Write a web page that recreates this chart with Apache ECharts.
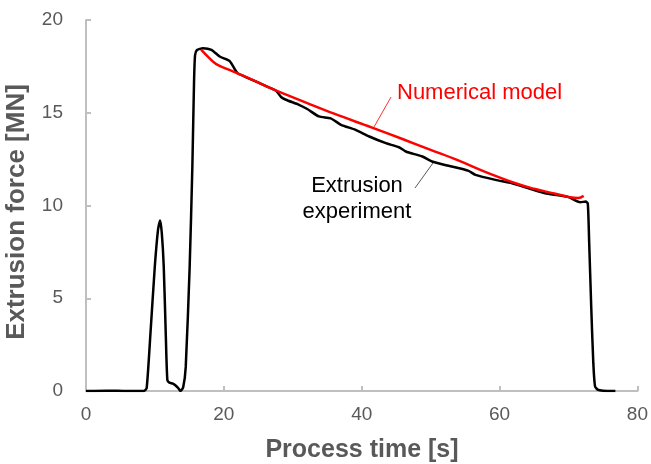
<!DOCTYPE html>
<html>
<head>
<meta charset="utf-8">
<script src="https://cdn.jsdelivr.net/npm/echarts@6/dist/echarts.min.js"></script>
<style>
  html, body { margin: 0; padding: 0; background: #ffffff; }
  #chart { width: 651px; height: 464px; }
</style>
</head>
<body>
<div id="chart"></div>
<script>
// Extrusion experiment (process time [s], force [MN])
var expTime = [0, 3, 6, 8.4, 8.8, 9.35, 9.98, 10.45, 10.75, 11.0, 11.28, 11.57, 11.8, 12.1, 12.6, 13.0, 13.4, 13.7, 14.1, 14.47, 15.04, 15.43, 15.67, 15.82, 16.1, 16.97, 18.2, 19.4, 20.8, 21.5, 22.0, 24.7, 26.6, 27.6, 28.3, 29.0, 30.9, 32.1, 33.8, 35.5, 37.0, 39.1, 41.1, 43.5, 45.4, 46.4, 48.8, 50.2, 52.6, 55.5, 56.5, 59.4, 61.8, 64.2, 66.6, 68.5, 70.0, 71.7, 72.5, 72.8, 73.0, 73.3, 73.6, 73.85, 74.3, 75.0, 76.8];
var expForce = [0, 0.02, 0, 0, 0.15, 3.1, 6.7, 8.7, 9.19, 8.5, 6.7, 3.1, 0.6, 0.45, 0.4, 0.3, 0.15, 0, 0.2, 1.3, 6.7, 12.1, 16.6, 18.1, 18.38, 18.48, 18.39, 18.03, 17.8, 17.4, 17.13, 16.68, 16.36, 16.18, 15.85, 15.7, 15.43, 15.2, 14.8, 14.7, 14.35, 14.08, 13.72, 13.36, 13.14, 12.91, 12.64, 12.37, 12.14, 11.87, 11.65, 11.38, 11.2, 10.93, 10.66, 10.55, 10.45, 10.18, 10.21, 10.1, 8.0, 4.5, 1.5, 0.25, 0.06, 0.02, 0];

// Numerical model
var modelTime = [16.7, 17.9, 18.9, 20.8, 22.8, 24.7, 26.6, 28.5, 32.1, 36, 41.5, 46, 50, 54, 58, 62.3, 65, 66.6, 68.1, 70, 71.4, 72.2];
var modelForce = [18.4, 17.94, 17.62, 17.31, 17.0, 16.68, 16.36, 16.06, 15.52, 14.95, 14.2, 13.57, 13.0, 12.43, 11.8, 11.2, 10.9, 10.76, 10.63, 10.46, 10.4, 10.52];

var xTicks = [0, 20, 40, 60, 80];
var yTicks = [0, 5, 10, 15, 20];

function pairs(xs, ys) {
  var out = [];
  for (var i = 0; i < xs.length; i++) out.push([xs[i], ys[i]]);
  return out;
}

var FONT = "'Liberation Sans', Arial, sans-serif";
var chart = echarts.init(document.getElementById('chart'), null, { renderer: 'canvas' });
chart.setOption({
  animation: false,
  backgroundColor: '#ffffff',
  grid: { left: 86, right: 13, top: 20, bottom: 73 },
  xAxis: {
    type: 'value', min: xTicks[0], max: xTicks[xTicks.length - 1], interval: 20,
    axisLine: { show: true, lineStyle: { color: '#bfbfbf', width: 2 } },
    axisTick: { show: true, inside: true, length: 5, lineStyle: { color: '#bfbfbf', width: 2 } },
    splitLine: { show: false },
    axisLabel: { color: '#595959', fontSize: 19, fontFamily: FONT, margin: 14 }
  },
  yAxis: {
    type: 'value', min: yTicks[0], max: yTicks[yTicks.length - 1], interval: 5,
    axisLine: { show: true, lineStyle: { color: '#bfbfbf', width: 2 } },
    axisTick: { show: true, inside: true, length: 5, lineStyle: { color: '#bfbfbf', width: 2 } },
    splitLine: { show: false },
    axisLabel: { color: '#595959', fontSize: 19, fontFamily: FONT, margin: 23 }
  },
  series: [
    {
      name: 'Extrusion experiment', type: 'line', data: pairs(expTime, expForce),
      showSymbol: false, smooth: 0.2,
      lineStyle: { color: '#000000', width: 2.5 }, z: 2
    },
    {
      name: 'Numerical model', type: 'line', data: pairs(modelTime, modelForce),
      showSymbol: false, smooth: 0.4,
      lineStyle: { color: '#ff0000', width: 2.5 }, z: 3
    }
  ],
  graphic: [
    { type: 'text', x: 17, y: 212, rotation: Math.PI / 2,
      style: { text: 'Extrusion force [MN]', font: 'bold 26px ' + FONT, fill: '#595959', align: 'center', verticalAlign: 'middle' } },
    { type: 'text', x: 362, y: 450,
      style: { text: 'Process time [s]', font: 'bold 25px ' + FONT, fill: '#595959', align: 'center', verticalAlign: 'middle' } },
    { type: 'text', x: 397, y: 93,
      style: { text: 'Numerical model', font: '22px ' + FONT, fill: '#ff0000', align: 'left', verticalAlign: 'middle' } },
    { type: 'text', x: 357, y: 186,
      style: { text: 'Extrusion', font: '22px ' + FONT, fill: '#000000', align: 'center', verticalAlign: 'middle' } },
    { type: 'text', x: 357, y: 212,
      style: { text: 'experiment', font: '22px ' + FONT, fill: '#000000', align: 'center', verticalAlign: 'middle' } },
    { type: 'line', shape: { x1: 391, y1: 97, x2: 374, y2: 127 }, style: { stroke: '#ff3333', lineWidth: 1 } },
    { type: 'line', shape: { x1: 433, y1: 163, x2: 415, y2: 188 }, style: { stroke: '#595959', lineWidth: 1 } }
  ]
});
</script>
</body>
</html>
